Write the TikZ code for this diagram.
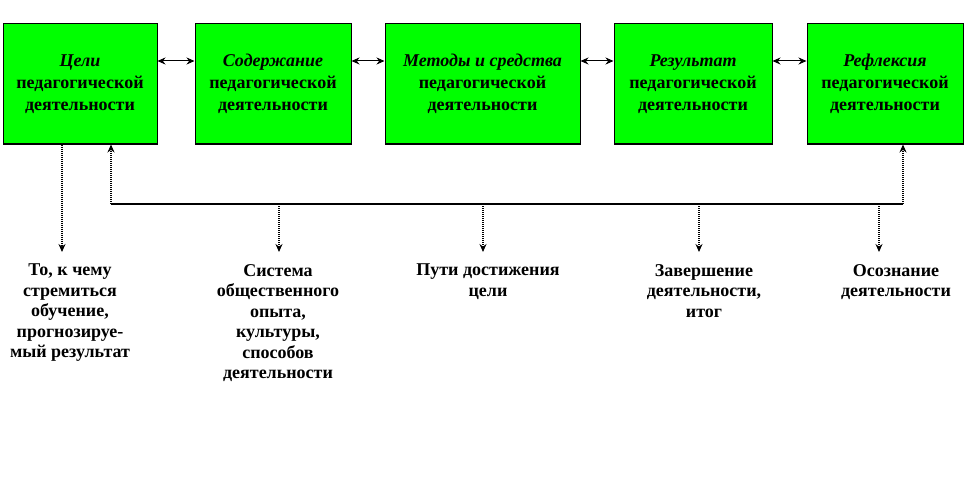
\documentclass[tikz,border=0pt]{standalone}
\usepackage{fontspec}
\setmainfont{Liberation Serif}
\usetikzlibrary{arrows.meta}
\definecolor{boxgreen}{HTML}{00FF00}
\tikzset{
  stage/.style={draw=black, line width=1pt, fill=boxgreen, inner sep=0pt,
    minimum height=120pt, align=center,
    font=\bfseries\fontsize{18}{22}\selectfont},
  note/.style={anchor=north, inner xsep=1pt, inner ysep=12pt, align=center,
    font=\bfseries\fontsize{18}{20.5}\selectfont},
  tip/.style={-{Stealth[length=8pt,width=7pt]}},
  linkarrow/.style={{Stealth[length=8pt,width=7pt]}-{Stealth[length=8pt,width=7pt]}, line width=1pt},
  solidline/.style={line width=1.1pt},
  dotline/.style={line width=1.2pt, dash pattern=on 1pt off 1pt, tip}
}
\begin{document}
\begin{tikzpicture}[x=1pt,y=-1pt]
\useasboundingbox (0,0) rectangle (966,492);
\fill[white] (0,0) rectangle (966,492);

\node[stage, minimum width=154pt] (b1) at (80,84) {\itshape Цели\\педагогической\\деятельности};
\node[stage, minimum width=156pt] (b2) at (273,84) {\itshape Содержание\\педагогической\\деятельности};
\node[stage, minimum width=195pt] (b3) at (482.5,84) {\itshape Методы и средства\\педагогической\\деятельности};
\node[stage, minimum width=158pt] (b4) at (693,84) {\itshape Результат\\педагогической\\деятельности};
\node[stage, minimum width=156pt] (b5) at (885,84) {\itshape Рефлексия\\педагогической\\деятельности};

\draw[linkarrow] ([yshift=23pt]b1.east) -- ([yshift=23pt]b2.west);
\draw[linkarrow] ([yshift=23pt]b2.east) -- ([yshift=23pt]b3.west);
\draw[linkarrow] ([yshift=23pt]b3.east) -- ([yshift=23pt]b4.west);
\draw[linkarrow] ([yshift=23pt]b4.east) -- ([yshift=23pt]b5.west);

\node[note] (t1) at (70,252) {То, к чему\\стремиться\\обучение,\\прогнозируе-\\мый результат};
\node[note] (t2) at (278,252) {Система\\общественного\\опыта,\\культуры,\\способов\\деятельности};
\node[note] (t3) at (488,252) {Пути достижения\\цели};
\node[note] (t4) at (704,252) {Завершение\\деятельности,\\итог};
\node[note] (t5) at (896,252) {Осознание\\деятельности};

\coordinate (h1) at (111,204);
\coordinate (h2) at (903,204);
\coordinate (d2) at (279,204);
\coordinate (d3) at (483,204);
\coordinate (d4) at (699,204);
\coordinate (d5) at (879,204);

\draw[solidline] (h1) -- (h2);
\draw[dotline] (h1) -- (h1 |- b1.south);
\draw[dotline] (h2) -- (h2 |- b5.south);
\draw[dotline] ([xshift=-18pt]b1.south) -- ([xshift=-18pt]b1.south |- t1.north);
\draw[dotline] (d2) -- (d2 |- t2.north);
\draw[dotline] (d3) -- (d3 |- t3.north);
\draw[dotline] (d4) -- (d4 |- t4.north);
\draw[dotline] (d5) -- (d5 |- t5.north);
\end{tikzpicture}
\end{document}
